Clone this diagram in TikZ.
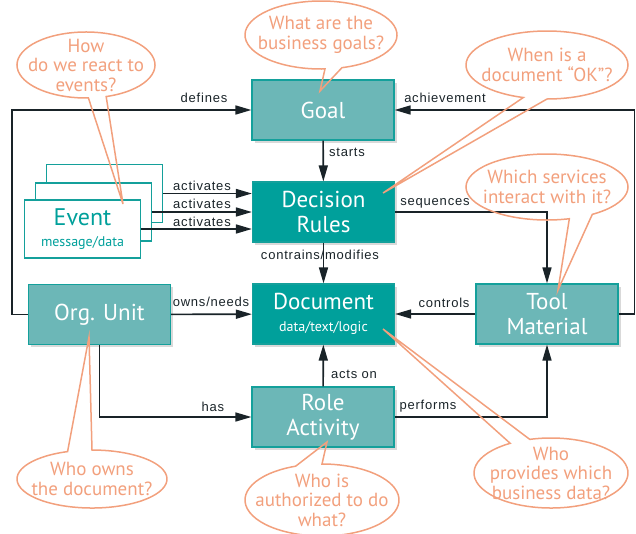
\documentclass[tikz,border=0pt]{standalone}
\usepackage{fontspec}
\setmainfont{PT Sans}
\newfontfamily\lblfont[LetterSpace=6]{Liberation Sans}
\usetikzlibrary{arrows.meta,shadows}
\definecolor{tealline}{RGB}{20,160,155}
\definecolor{teallight}{RGB}{108,183,183}
\definecolor{tealdark}{RGB}{0,160,155}
\definecolor{peach}{RGB}{242,160,125}
\definecolor{ink}{RGB}{25,35,40}

\begin{document}
\begin{tikzpicture}[x=1pt,y=1pt,
    box/.style={draw=tealline, fill=teallight, line width=1.2pt, minimum width=142pt, minimum height=60pt, inner sep=2pt, text=white, align=center, font=\fontsize{23}{25}\selectfont, drop shadow={shadow xshift=2.5pt, shadow yshift=-2.5pt, opacity=0.3}},
    dbox/.style={box, fill=tealdark},
    evt/.style={draw=tealline, fill=white, line width=1.2pt, minimum width=116pt, minimum height=58pt, inner sep=2pt, text=tealdark, align=center, font=\fontsize{24}{21}\selectfont},
    link/.style={draw=ink, line width=1.6pt, -{Triangle[length=16pt,width=9pt]}},
    lbl/.style={text=ink, inner sep=0pt, font=\lblfont\fontsize{13}{13}\selectfont},
    ask/.style={text=peach, align=center, inner sep=0pt, font=\fontsize{19}{19.5}\selectfont},
    bubble/.style={draw=peach, line width=1.5pt}]
    \useasboundingbox (0,0) rectangle (636,-533);

    \node [box] (goal) at (323,-110) {Goal};
    \node [dbox] (rules) at (323.5,-212) {Decision\\Rules};
    \node [dbox] (doc) at (323.5,-314) {Document\\[-3pt]{\fontsize{14}{16}\selectfont data/text/logic}};
    \node [box] (org) at (99.5,-314.5) {Org. Unit};
    \node [box] (role) at (323,-417) {Role\\Activity};
    \node [box] (tool) at (547,-314) {Tool\\Material};
    \node [evt] (ev3) at (104.5,-193.5) {};
    \node [evt] (ev2) at (93.5,-212) {};
    \node [evt] (ev1) at (82.5,-229) {Event\\{\fontsize{14}{16}\selectfont message/data}};

    \draw [link] (org.west) -- ++(-16,0) |- (goal.west);
    \draw [link] (tool.east) -- ++(16,0) |- (goal.east);
    \draw [link] (goal) -- (rules);
    \draw [link] (ev3.east) -- (rules.west |- ev3.east);
    \draw [link] (ev2.east) -- (rules.west |- ev2.east);
    \draw [link] (ev1.east) -- (rules.west |- ev1.east);
    \draw [link] (rules.east) -| (tool.north);
    \node [lbl] (lcon) at (320,-255) {contrains/modifies};
    \draw [link] (rules) -- (doc);
    \draw [link] (org) -- (doc);
    \draw [link] (tool) -- (doc);
    \draw [link] (role) -- (doc);
    \draw [link] (org.south) |- (role.west);
    \draw [link] (role.east) -| (tool.south);

    \node [lbl] (ldef) at (204,-98) {defines};
    \node [lbl] (lach) at (445,-98) {achievement};
    \node [lbl] (lsta) at (347,-152) {starts};
    \node [lbl] (lac3) at (202,-186) {activates};
    \node [lbl] (lac2) at (202,-204) {activates};
    \node [lbl] (lac1) at (202,-222) {activates};
    \node [lbl] (lseq) at (435,-203) {sequences};
    \node [lbl] (lown) at (211,-302) {owns/needs};
    \node [lbl] (lctl) at (444,-303) {controls};
    \node [lbl] (lact) at (354,-374) {acts on};
    \node [lbl] (lhas) at (213,-407) {has};
    \node [lbl] (lper) at (428,-406) {performs};

    \node [ask] (qgoal) at (321,-35) {What are the\\business goals?};
    \coordinate (tgoal) at (320,-91);
    \draw [bubble] (qgoal.center) ++(286:76pt and 34pt) arc[start angle=286, end angle=633, x radius=76pt, y radius=34pt] -- (tgoal) -- cycle;

    \node [ask] (qevt) at (86,-65) {How\\do we react to\\events?};
    \coordinate (tevt) at (123,-204);
    \draw [bubble] (qevt.center) ++(287:69pt and 33pt) arc[start angle=287, end angle=632, x radius=69pt, y radius=33pt] -- (tevt) -- cycle;

    \node [ask] (qok) at (547,-65) {When is a\\document “OK”?};
    \coordinate (tok) at (383,-193);
    \draw [bubble] (qok.center) ++(270:81pt and 34pt) arc[start angle=270, end angle=613, x radius=81pt, y radius=34pt] -- (tok) -- cycle;

    \node [ask] (qsvc) at (547,-187) {Which services\\interact with it?};
    \coordinate (tsvc) at (558,-290);
    \draw [bubble] (qsvc.center) ++(304:81pt and 33pt) arc[start angle=304, end angle=646, x radius=81pt, y radius=33pt] -- (tsvc) -- cycle;

    \node [ask] (qorg) at (92,-479) {Who owns\\the document?};
    \coordinate (torg) at (89,-337);
    \draw [bubble] (qorg.center) ++(109:75pt and 29pt) arc[start angle=109, end angle=450, x radius=75pt, y radius=29pt] -- (torg) -- cycle;

    \node [ask] (qrole) at (322,-500) {Who is\\authorized to do\\what?};
    \coordinate (trole) at (327,-442);
    \draw [bubble] (qrole.center) ++(110:77pt and 36pt) arc[start angle=110, end angle=450, x radius=77pt, y radius=36pt] -- (trole) -- cycle;

    \node [ask] (qdata) at (551,-473) {Who\\provides which\\business data?};
    \coordinate (tdata) at (383,-329);
    \draw [bubble] (qdata.center) ++(122:77pt and 35pt) arc[start angle=122, end angle=466, x radius=77pt, y radius=35pt] -- (tdata) -- cycle;
\end{tikzpicture}
\end{document}
